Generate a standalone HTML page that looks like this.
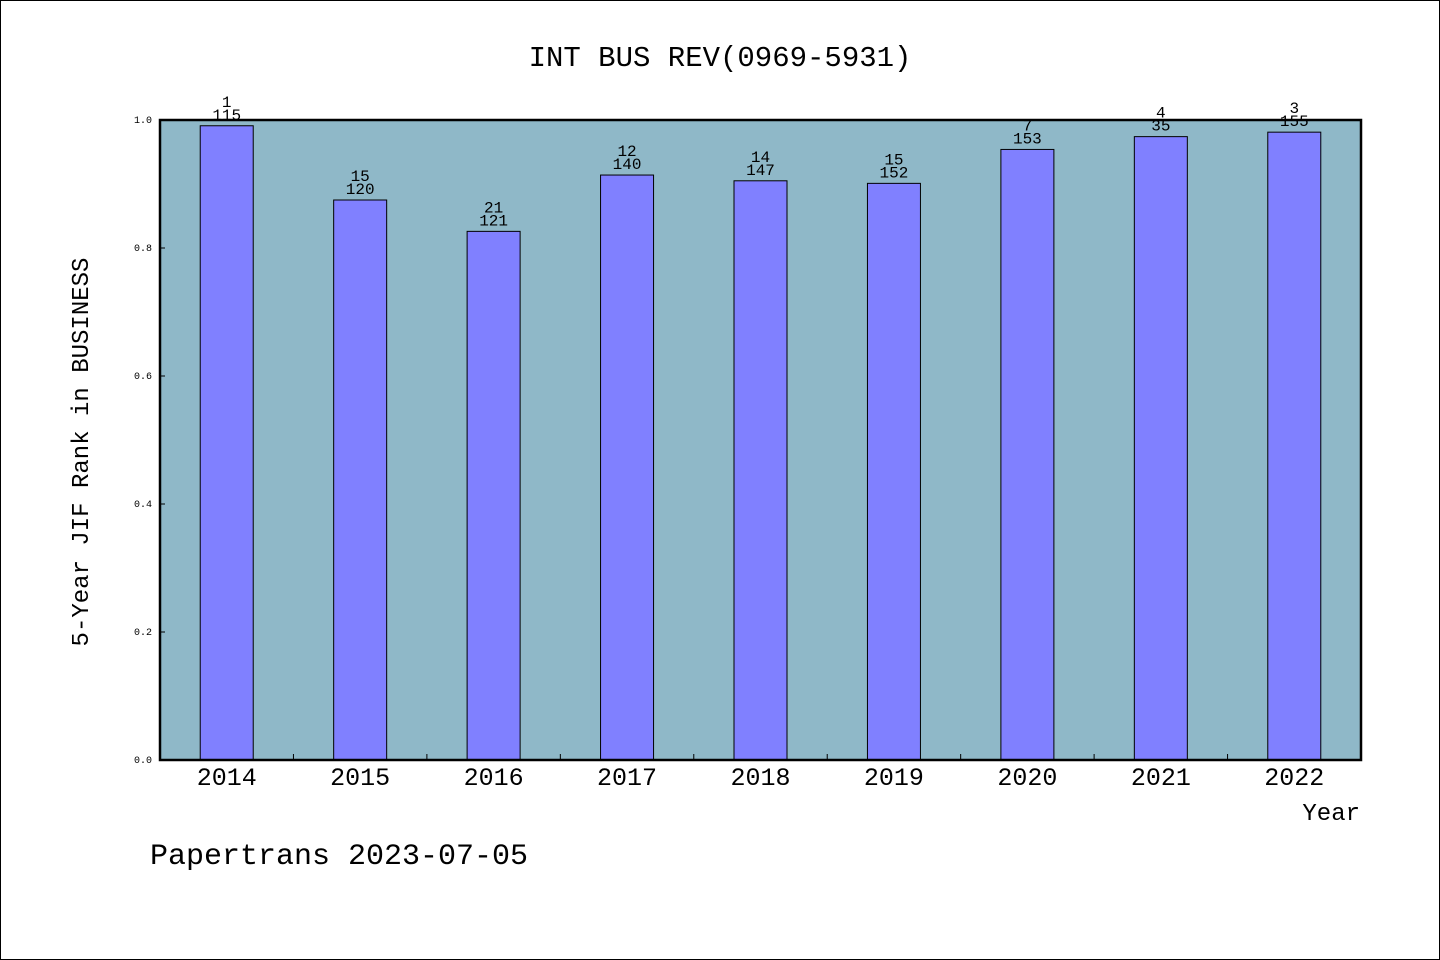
<!DOCTYPE html>
<html><head><meta charset="utf-8"><style>
html,body{margin:0;padding:0;background:#fff}
svg{display:block}
text{font-family:"Liberation Mono","DejaVu Sans Mono",monospace;fill:#000}
</style></head><body>
<svg width="1440" height="960" viewBox="0 0 1440 960">
<rect x="0.5" y="0.5" width="1439" height="959" fill="#fff" stroke="#000"/>
<text x="720" y="66" font-size="29" text-anchor="middle">INT BUS REV(0969-5931)</text>
<rect x="160" y="120" width="1201" height="640" fill="#8fb8c8"/>
<g id="bars"></g>
<rect x="160" y="120" width="1201" height="640" fill="none" stroke="#000" stroke-width="2.5"/>
<text transform="translate(88,452) rotate(-90)" font-size="24" text-anchor="middle">5-Year JIF Rank in BUSINESS</text>
<text x="1360" y="820" font-size="24" text-anchor="end">Year</text>
<text x="150" y="864" font-size="30">Papertrans 2023-07-05</text>
</svg>
<script>
const years=["2014","2015","2016","2017","2018","2019","2020","2021","2022"];
const values=[0.991,0.875,0.826,0.914,0.905,0.901,0.954,0.974,0.981];
const ranks=["1","15","21","12","14","15","7","4","3"];
const totals=["115","120","121","140","147","152","153","35","155"];
const yTicks=["0.0","0.2","0.4","0.6","0.8","1.0"];
const NS="http://www.w3.org/2000/svg";
const X0=160,X1=1361,Y0=760,Y1=120;
const band=(X1-X0)/years.length;
const xc=i=>X0+(i+0.5)*band;
const ys=v=>Y0-(Y0-Y1)*v;
const g=document.getElementById('bars');
function mk(t,a){const e=document.createElementNS(NS,t);for(const k in a)e.setAttribute(k,a[k]);g.appendChild(e);return e;}
yTicks.forEach(t=>{
 const y=ys(parseFloat(t));
 const l=mk('line',{x1:X0,x2:X0+5,y1:y,y2:y,stroke:'#000'});
 
 
 const tx=mk('text',{x:152,y:y+3,'font-size':10,'text-anchor':'end'});
 tx.textContent=t;
 
 
});
for(let i=1;i<years.length;i++){
 const x=X0+i*band;
 const l=mk('line',{x1:x,x2:x,y1:Y0,y2:Y0-6,stroke:'#000'});
 
 
}
years.forEach((yr,i)=>{
 const c=xc(i),w=53,top=ys(values[i]);
 const r=mk('rect',{x:c-w/2,y:top,width:w,height:Y0-top,fill:'#8080ff',stroke:'#000','stroke-width':1});
 
 
 const a=mk('text',{x:c,y:top-19,'font-size':16,'text-anchor':'middle'});
 a.textContent=ranks[i];
 
 
 const b=mk('text',{x:c,y:top-6,'font-size':16,'text-anchor':'middle'});
 b.textContent=totals[i];
 
 
 const t=mk('text',{x:c,y:785,'font-size':25,'text-anchor':'middle'});
 t.textContent=yr;
 
 
});
</script>
</body></html>
